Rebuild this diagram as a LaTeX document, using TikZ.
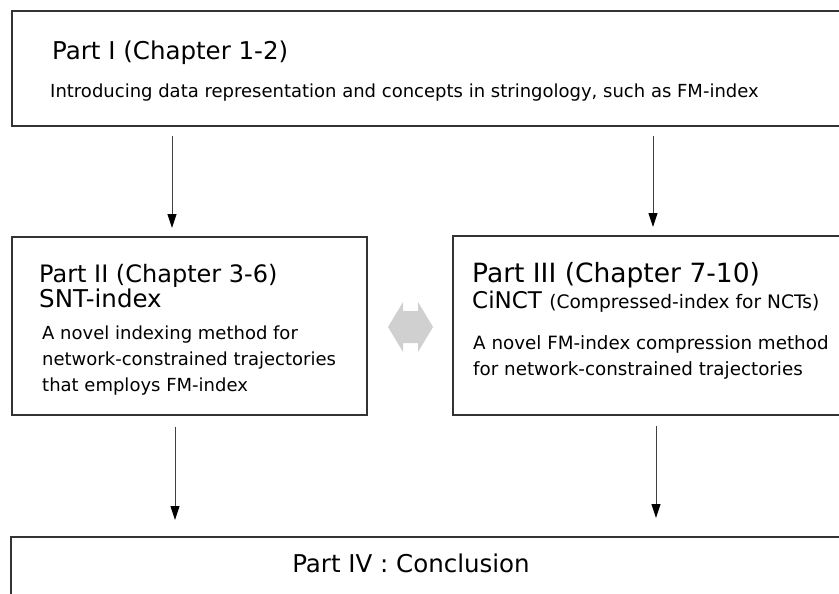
\documentclass[tikz,border=0pt]{standalone}
\usepackage{fontspec}
\setmainfont{DejaVu Sans}
\usetikzlibrary{arrows.meta}
\definecolor{boxline}{HTML}{333333}
\definecolor{linkgray}{HTML}{D0D0D0}
\tikzset{
  partbox/.style={draw=boxline, line width=1.7pt, fill=white, inner sep=0pt, anchor=north west},
  flow/.style={draw=black!75, line width=1pt, -{Triangle[length=14pt,width=9pt,color=black]}},
  textline/.style={anchor=base west, inner sep=0pt},
  bigtext/.style={textline, font=\fontsize{24.5}{28}\selectfont},
  bodytext/.style={textline, font=\fontsize{18}{22}\selectfont},
}
\begin{document}
\begin{tikzpicture}[x=1pt,y=-1pt]
\useasboundingbox (0,0) rectangle (839,594);
\clip (0,0) rectangle (839,594);

% the four part boxes
\node[partbox, minimum width=840pt, minimum height=115pt] (p1) at (11,10) {};
\node[partbox, minimum width=355pt, minimum height=178pt] (p2) at (11,236) {};
\node[partbox, minimum width=400pt, minimum height=179pt] (p3) at (452,235) {};
\node[partbox, minimum width=840pt, minimum height=80pt] (p4) at (10,536) {};

% Part I
\node[bigtext] (p1title) at (52,60) {Part I (Chapter 1-2)};
\node[bodytext] (p1text) at (50,98) {Introducing data representation and concepts in stringology, such as FM-index};

% Part II
\node[bigtext, font=\fontsize{24}{28}\selectfont] (p2title) at (39,282) {Part II (Chapter 3-6)};
\node[bigtext] (p2name) at (39,307) {SNT-index};
\node[bodytext] (p2l1) at (42,339) {A novel indexing method for};
\node[bodytext] (p2l2) at (42,365) {network-constrained trajectories};
\node[bodytext] (p2l3) at (42,391) {that employs FM-index};

% Part III
\node[bigtext, font=\fontsize{26.5}{30}\selectfont] (p3title) at (472,282) {Part III (Chapter 7-10)};
\node[textline, font=\fontsize{23}{26}\selectfont] (p3name) at (472,308) {CiNCT \fontsize{18.6}{20}\selectfont(Compressed-index for NCTs)};
\node[bodytext, font=\fontsize{18.3}{22}\selectfont] (p3l1) at (473,349) {A novel FM-index compression method};
\node[bodytext, font=\fontsize{18.3}{22}\selectfont] (p3l2) at (473,375) {for network-constrained trajectories};

% Part IV
\node[anchor=base, inner sep=0pt, font=\fontsize{24.5}{28}\selectfont] (p4title) at (411,572) {Part IV : Conclusion};

% arrow columns
\coordinate (c1) at (172,0);
\coordinate (c2) at (653,0);
\coordinate (c3) at (175,0);
\coordinate (c4) at (656,0);

\draw[flow, shorten <=9pt, shorten >=8pt] (p1.south -| c1) -- (p2.north -| c1);
\draw[flow, shorten <=9pt, shorten >=8pt] (p1.south -| c2) -- (p3.north -| c2);
\draw[flow, shorten <=11pt, shorten >=16pt] (p2.south -| c3) -- (p4.north -| c3);
\draw[flow, shorten <=10pt, shorten >=18pt] (p3.south -| c4) -- (p4.north -| c4);

% grey two-way link between Part II and Part III
\fill[linkgray] (388,327) -- (403,302) -- (403,311) -- (418,311) -- (418,302) -- (433,327)
  -- (418,352) -- (418,343) -- (403,343) -- (403,352) -- cycle;
\end{tikzpicture}
\end{document}
